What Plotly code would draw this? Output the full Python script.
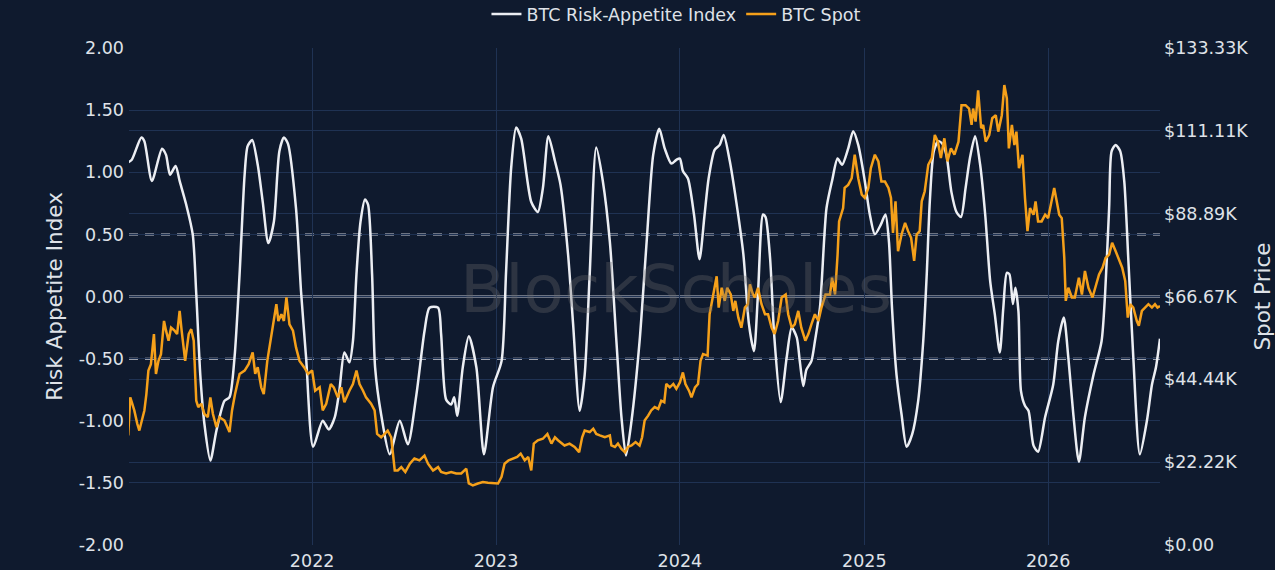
import pandas as pd
import plotly.graph_objects as go

# days counted from 2021-01-01
index_day = [0, 7, 26, 32, 47, 67, 75, 83, 94, 102, 115, 128, 135, 143, 151, 163, 175, 191, 201, 211,
             221, 231, 237, 246, 257, 267, 278, 289, 300, 309, 317, 333, 343, 353, 367, 386, 398, 410,
             419, 429, 439, 446, 453, 461, 470, 476, 484, 490, 502, 519, 539, 555, 572, 588, 598, 615,
             621, 631, 641, 647, 653, 664, 676, 691, 706, 724, 741, 750, 760, 770, 780, 800, 813, 823,
             834, 847, 858, 873, 883, 896, 906, 916, 929, 942, 956, 969, 979, 988, 999, 1015, 1029,
             1042, 1054, 1065, 1078, 1088, 1095, 1101, 1111, 1123, 1134, 1144, 1152, 1164, 1174, 1182,
             1194, 1207, 1221, 1232, 1242, 1250, 1260, 1265, 1274, 1282, 1295, 1307, 1317, 1327, 1333,
             1340, 1346, 1356, 1363, 1373, 1386, 1397, 1408, 1417, 1429, 1439, 1449, 1462, 1472, 1482,
             1494, 1503, 1510, 1516, 1525, 1535, 1545, 1556, 1568, 1578, 1585, 1591, 1599, 1608, 1616,
             1624, 1634, 1644, 1653, 1662, 1671, 1681, 1691, 1701, 1711, 1720, 1730, 1737, 1744, 1749,
             1756, 1761, 1767, 1772, 1780, 1787, 1797, 1806, 1820, 1836, 1846, 1857, 1866, 1876, 1887,
             1899, 1916, 1932, 1939, 1947, 1952, 1960, 1969, 1977, 1985, 1995, 2008, 2022, 2032, 2040,
             2048]
index_val = [1.08, 1.10, 1.28, 1.25, 0.93, 1.19, 1.14, 0.98, 1.05, 0.93, 0.74, 0.50, 0.02, -0.63, -1.02,
             -1.32, -1.08, -0.84, -0.81, -0.49, 0.18, 0.98, 1.21, 1.26, 1.06, 0.76, 0.43, 0.60, 1.17,
             1.28, 1.23, 0.71, 0.04, -0.49, -1.21, -1.00, -1.07, -0.97, -0.76, -0.45, -0.53, -0.36,
             0.18, 0.60, 0.78, 0.74, 0.18, -0.57, -0.95, -1.27, -1.00, -1.19, -0.79, -0.28, -0.09,
             -0.09, -0.30, -0.83, -0.87, -0.81, -0.96, -0.57, -0.32, -0.57, -1.27, -0.73, -0.52, 0.20,
             1.03, 1.36, 1.27, 0.76, 0.68, 0.87, 1.29, 1.09, 0.90, 0.34, -0.22, -0.92, -0.63, 0.18,
             1.20, 0.93, 0.44, -0.36, -0.97, -1.28, -1.00, -0.36, 0.44, 1.14, 1.35, 1.19, 1.07, 1.10,
             1.11, 1.01, 0.95, 0.66, 0.30, 0.66, 0.95, 1.18, 1.22, 1.30, 1.09, 0.76, 0.34, -0.22, -0.44,
             0.02, 0.66, 0.64, 0.31, -0.30, -0.85, -0.49, -0.25, -0.33, -0.52, -0.72, -0.59, -0.52,
             -0.36, -0.09, 0.71, 0.93, 1.11, 1.06, 1.19, 1.33, 1.22, 0.93, 0.66, 0.50, 0.58, 0.66, 0.44,
             -0.09, -0.63, -0.95, -1.21, -1.11, -0.84, -0.36, 0.18, 0.76, 1.17, 1.25, 1.23, 1.14, 0.84,
             0.68, 0.64, 0.87, 1.12, 1.29, 1.06, 0.66, 0.12, -0.14, -0.45, -0.09, 0.19, 0.18, -0.06,
             0.07, -0.12, -0.76, -0.88, -0.92, -1.20, -1.25, -0.97, -0.71, -0.36, -0.17, -0.49, -0.95,
             -1.33, -0.97, -0.63, -0.36, 0.02, 0.71, 1.17, 1.22, 1.17, 0.93, 0.31, -0.49, -1.27, -1.00,
             -0.71, -0.57, -0.34]

spot_day = [0, 4, 7, 12, 18, 22, 27, 32, 36, 40, 45, 51, 55, 60, 65, 71, 75, 80, 85, 92, 97, 102, 106,
            113, 120, 125, 130, 135, 139, 145, 151, 158, 163, 168, 175, 181, 191, 201, 206, 212, 221,
            231, 239, 247, 252, 257, 264, 269, 276, 282, 289, 294, 298, 304, 309, 314, 320, 327, 333,
            340, 349, 357, 365, 371, 380, 386, 393, 402, 408,
            416, 423, 429, 439, 446, 453, 459, 466, 472, 482, 489, 494, 502, 509, 515, 522, 529, 535,
            542, 550, 559, 568, 578, 588, 595, 605, 615, 621, 631, 641, 651, 661, 671, 676, 684, 694,
            704, 714, 724, 734, 741, 747, 755, 764, 772, 779, 787, 794, 800, 805, 813, 823, 832,
            840, 847, 853, 860, 866, 876, 886, 895, 901, 906, 916, 923, 929, 936, 946, 956, 959, 966,
            972, 979, 986, 992, 999, 1007, 1015, 1020, 1025, 1032, 1038, 1045, 1052, 1058, 1064, 1068,
            1075, 1082, 1088, 1095, 1101, 1106, 1113, 1118, 1125, 1131, 1136, 1141, 1150, 1154, 1161,
            1168, 1172, 1178, 1184, 1189, 1196, 1201, 1205, 1211, 1217, 1224, 1230, 1234, 1240,
            1244, 1250, 1257, 1264, 1270, 1277, 1283, 1290, 1297, 1305, 1310, 1317, 1323, 1330, 1336,
            1344, 1350, 1356, 1363, 1370, 1376, 1384, 1393, 1397, 1403, 1408, 1411, 1415, 1419, 1422,
            1429, 1436, 1442, 1449, 1456, 1462, 1469, 1474, 1482, 1489, 1495, 1502, 1509, 1514, 1518,
            1523, 1528, 1535, 1542, 1548, 1554, 1560, 1565, 1571, 1575, 1581, 1588, 1595, 1601, 1607,
            1613, 1620, 1626, 1633, 1640, 1648, 1654, 1662, 1669, 1674,
            1677, 1682, 1687, 1693, 1697, 1702, 1709, 1715, 1722, 1727, 1734, 1739, 1744, 1748, 1754,
            1759, 1763, 1768, 1775, 1780, 1785, 1790, 1797, 1801, 1806, 1813, 1820, 1826, 1832, 1838,
            1843, 1848, 1853, 1858, 1861, 1866, 1873, 1879, 1887, 1893, 1899, 1906, 1914, 1920, 1927,
            1934, 1940, 1947, 1953, 1960, 1967, 1973, 1979, 1984, 1989, 1995, 2002, 2006, 2012, 2018,
            2025, 2032, 2038, 2043, 2048]
# BTC spot, thousands of USD
spot_k = [29.4, 39.6, 38.3, 36.1, 32.5, 30.7, 33.4, 36.1, 40.5, 46.8, 48.5, 56.6, 45.9, 49.4, 51.2, 60.1,
          57.5, 54.8, 58.3, 57.5, 56.6, 62.8, 57.5, 49.4, 56.6, 57.9, 54.8, 38.7, 37.0, 37.9, 35.2, 34.3,
          39.6, 35.2, 31.6, 34.3, 33.4, 30.3, 36.1, 40.5, 45.9, 46.8, 48.5, 51.7, 45.9, 47.7, 42.3, 40.5,
          49.4, 54.8, 60.1, 64.6, 60.1, 61.9, 60.1, 66.4, 59.2, 57.5, 53.0, 49.4, 47.7, 45.9, 46.8, 41.4,
          42.3, 36.1, 37.9, 43.2, 42.3,
          39.6, 42.3, 38.3, 41.4, 43.2, 46.8, 43.2, 41.4, 39.6, 37.9, 36.1, 29.8, 28.9, 29.8, 30.7, 28.9,
          20.0, 20.0, 20.9, 19.6, 21.8, 23.2, 22.7, 24.0, 21.8, 20.0, 20.9, 19.6, 19.2, 19.6, 19.2, 19.2,
          20.5, 16.5, 16.0, 16.5, 16.9, 16.7, 16.5, 16.5, 18.3, 21.8, 22.7, 23.2, 23.6, 24.5, 22.7, 23.6,
          20.0, 27.2, 28.1, 28.5, 29.8,
          27.2, 28.9, 28.1, 27.2, 26.7, 27.2, 26.3, 24.9, 28.9, 30.7, 30.3, 31.2, 29.8, 29.4, 28.9, 29.4,
          26.7, 26.3, 27.2, 25.8, 24.9, 26.3, 26.7, 27.6, 26.7, 28.9, 33.4, 34.7, 36.1, 37.0, 36.5, 38.7,
          38.3, 43.2, 42.3, 43.2, 41.9, 43.6, 46.3, 43.2, 41.4, 39.6, 42.3, 43.2, 49.4, 51.2, 50.8, 61.9,
          67.2, 72.1, 63.7, 69.0, 65.5, 69.0, 67.2, 62.8, 65.5, 61.0, 58.3, 63.7, 64.6, 69.9, 67.2,
          66.4, 69.0, 64.6, 61.9, 61.9, 58.3, 56.6, 60.1, 66.4, 67.2, 61.9, 58.3, 59.2, 62.8, 58.3, 54.8,
          56.6, 59.2, 61.9, 60.1, 63.7, 67.2, 67.2, 71.7, 67.2, 77.9, 86.8, 88.6, 90.4, 95.8, 96.6, 98.4,
          104.7, 98.4, 94.0, 93.1, 95.8, 101.1, 104.7, 102.9, 97.5, 97.5, 95.8, 93.1, 83.7, 92.2, 78.8,
          83.3, 86.4, 84.2, 82.4, 76.2, 83.3, 84.2, 92.2, 94.9, 102.0, 103.8, 110.0, 108.2, 103.8, 109.1,
          102.9, 106.4, 104.7, 108.2, 118.0, 118.0, 117.1, 112.7,
          117.1, 113.6, 122.0, 111.8, 112.7, 108.2, 110.0, 114.5, 115.3, 110.9, 115.3, 123.4, 119.8,
          106.4, 112.7, 107.3, 110.9, 101.1, 104.7, 93.1, 84.2, 90.4, 88.6, 92.2, 86.8, 86.8, 88.6, 87.7,
          92.2, 95.8, 92.2, 88.6, 87.7, 77.0, 65.5, 69.0, 66.4, 66.4, 71.7, 67.2, 73.5, 69.0, 66.4, 69.0,
          72.6, 74.4, 77.0, 77.9, 81.1, 78.8, 76.2, 74.4, 70.8, 61.0, 64.6, 63.7, 60.1, 58.8, 62.8, 63.7,
          64.6, 63.7, 64.6, 63.7, 64.1]

index_tickvals = [-2, -1.5, -1, -0.5, 0, 0.5, 1, 1.5, 2]
index_ticktext = ["-2.00", "-1.50", "-1.00", "-0.50", "0.00", "0.50", "1.00", "1.50", "2.00"]
spot_tickvals = [0, 22222.22, 44444.44, 66666.67, 88888.89, 111111.11, 133333.33]
spot_ticktext = ["$0.00", "$22.22K", "$44.44K", "$66.67K", "$88.89K", "$111.11K", "$133.33K"]

start = pd.Timestamp("2021-01-01")
index_dates = start + pd.to_timedelta(index_day, unit="D")
spot_dates = start + pd.to_timedelta(spot_day, unit="D")
spot_usd = [v * 1000 for v in spot_k]

bg = "#0f1a2e"
grid = "#1f3253"
txt = "#dfe2e8"
font = "DejaVu Sans"

fig = go.Figure()
fig.add_trace(go.Scatter(
    x=index_dates, y=index_val, name="BTC Risk-Appetite Index",
    mode="lines", line=dict(color="#eceef3", width=2.5, shape="spline", smoothing=0.7),
))
fig.add_trace(go.Scatter(
    x=spot_dates, y=spot_usd, name="BTC Spot", yaxis="y2",
    mode="lines", line=dict(color="#f5a01a", width=2.5),
))

# reference lines at 0 and +/-0.5
for lvl, dash in [(0.5, "9px,7px"), (0, "solid"), (-0.5, "9px,7px")]:
    fig.add_shape(type="line", xref="paper", x0=0, x1=1, yref="y", y0=lvl, y1=lvl,
                  line=dict(color="rgba(212,215,222,0.95)", width=2.2 if lvl == 0 else 2, dash=dash),
                  layer="between")

fig.add_annotation(text="BlockScholes", xref="paper", yref="paper", x=0.531, y=0.515,
                   showarrow=False,
                   font=dict(family=font, size=66, color="rgba(105,105,110,0.33)"))

fig.update_layout(
    width=1275, height=570,
    margin=dict(l=129, r=115, t=48, b=25, autoexpand=False),
    paper_bgcolor=bg, plot_bgcolor=bg,
    font=dict(family=font, size=17.5, color=txt),
    showlegend=True,
    legend=dict(orientation="h", x=0.531, xanchor="center", y=1.068, yanchor="middle",
                font=dict(size=17.5, color=txt), bgcolor="rgba(0,0,0,0)"),
    xaxis=dict(type="date", range=["2021-01-02 12:00", "2026-08-11"], dtick="M12",
               tickformat="%Y", showgrid=True, gridcolor=grid, zeroline=False,
               showline=False, ticks="", ticklabelstandoff=3),
    yaxis=dict(title=dict(text="Risk Appetite Index", font=dict(size=21.5), standoff=10),
               range=[-2, 2], tickvals=index_tickvals, ticktext=index_ticktext,
               showgrid=True, gridcolor=grid, zeroline=False, ticks="", ticklabelstandoff=4),
    yaxis2=dict(title=dict(text="Spot Price", font=dict(size=21.5), standoff=16),
                overlaying="y", side="right", range=[0, 133333.33],
                tickvals=spot_tickvals, ticktext=spot_ticktext, showgrid=True, gridcolor=grid,
                zeroline=False, ticks="", ticklabelstandoff=3),
)

# page has a default body margin; drop it so the figure sits at the window corner
fig.write_html("out.html", config={"displayModeBar": False},
               post_script="document.body.style.margin='0';document.body.style.background='#0f1a2e';")
